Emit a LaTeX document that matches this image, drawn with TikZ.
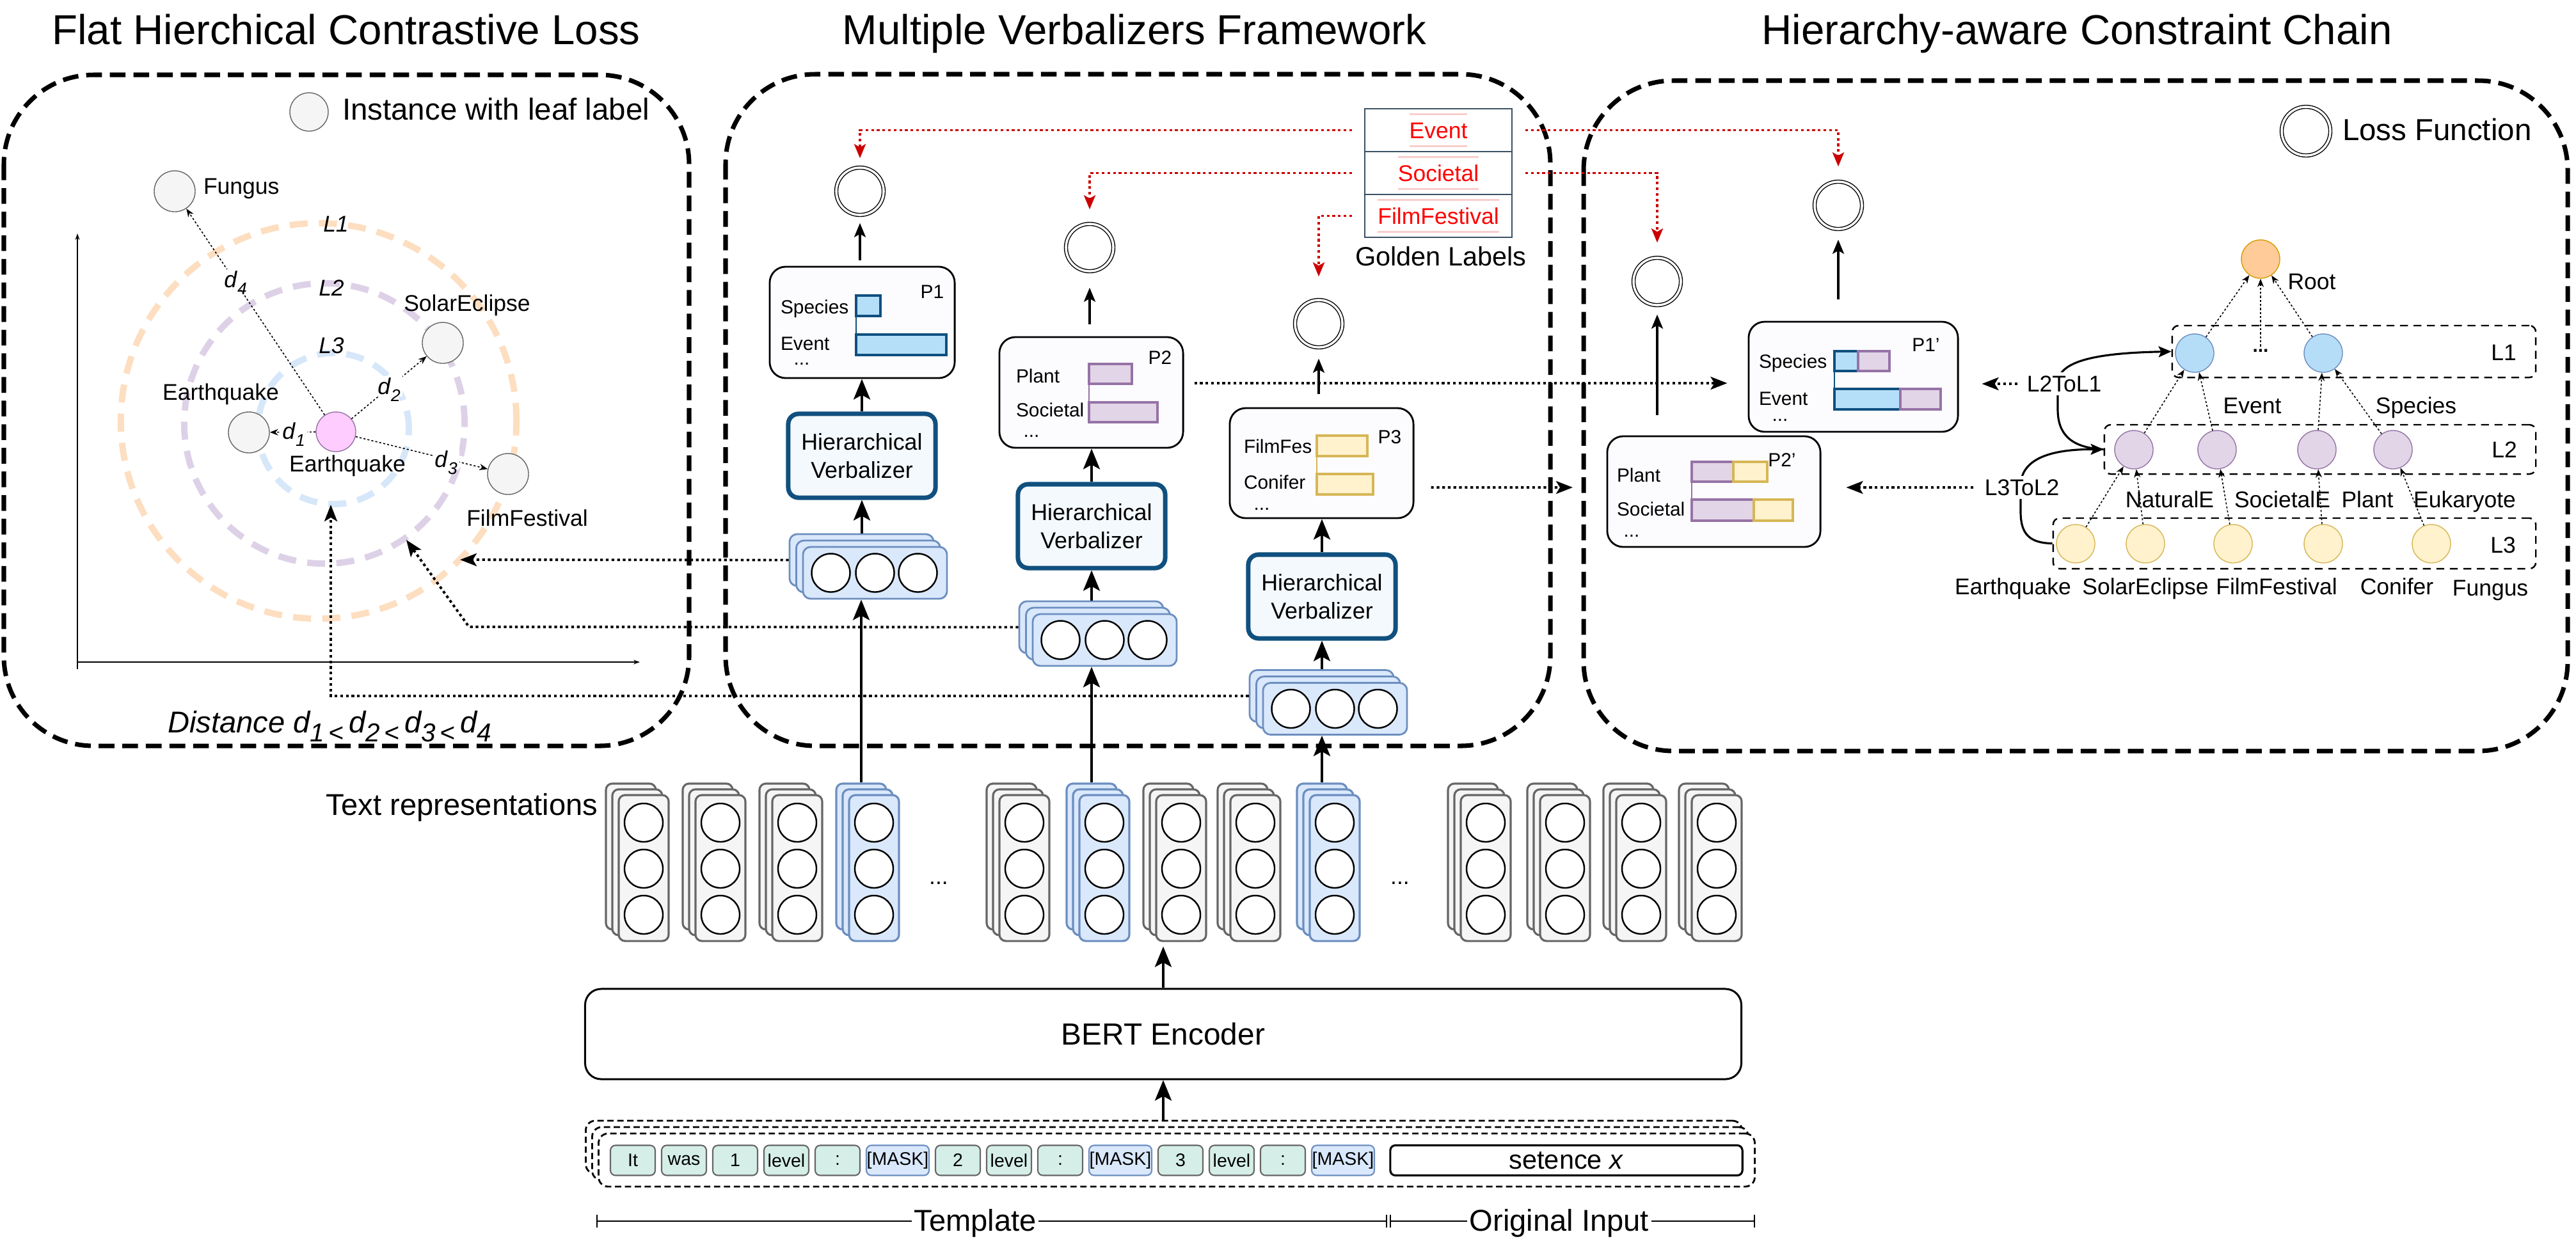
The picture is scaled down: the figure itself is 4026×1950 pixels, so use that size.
\documentclass[tikz,border=0pt]{standalone}
\usepackage{fontspec}
\setmainfont{Liberation Sans}
\usetikzlibrary{arrows.meta,calc}
\definecolor{grayfill}{HTML}{F5F5F5}
\definecolor{graystroke}{HTML}{666666}
\definecolor{bluefill}{HTML}{DAE8FC}
\definecolor{bluestroke}{HTML}{6C8EBF}
\definecolor{hvblue}{HTML}{10507F}
\definecolor{hvfill}{HTML}{F4F9FD}
\definecolor{skyfill}{HTML}{B5DFF9}
\definecolor{skystroke}{HTML}{10507F}
\definecolor{purfill}{HTML}{E1D5E7}
\definecolor{purstroke}{HTML}{9673A6}
\definecolor{yelfill}{HTML}{FFF2CC}
\definecolor{yelstroke}{HTML}{D6B656}
\definecolor{tokfill}{HTML}{D5EFE8}
\definecolor{ringO}{HTML}{FDDEC0}
\definecolor{ringP}{HTML}{DDD1E7}
\definecolor{ringB}{HTML}{D7E7FA}
\definecolor{pinkfill}{HTML}{FFCCFF}
\definecolor{rootfill}{HTML}{FFCC99}
\definecolor{rootstroke}{HTML}{D79B00}
\definecolor{lonefill}{HTML}{B5DDF8}
\definecolor{darkred}{HTML}{CC0000}
\definecolor{tablestroke}{HTML}{3C5063}
\definecolor{paleline}{HTML}{F8CECC}
\definecolor{boxfill}{HTML}{FCFCFF}
\newcommand{\dsb}[1]{\raisebox{-0.3em}{\fontsize{7.5}{8}\selectfont\itshape #1}}
\newcommand{\dbig}[1]{\raisebox{-0.3em}{\fontsize{11.5}{12}\selectfont\itshape #1}}
\tikzset{
  txt/.style={inner sep=0pt, outer sep=0pt, text height=0.72em, text depth=0pt},
  ftitle/.style={font=\fontsize{18.6}{22}\selectfont},
  flegend/.style={font=\fontsize{13.5}{16}\selectfont},
  fbig/.style={font=\fontsize{13.4}{16}\selectfont},
  fgold/.style={font=\fontsize{11.8}{14}\selectfont},
  flab/.style={font=\fontsize{10.1}{12}\selectfont},
  fbox/.style={font=\fontsize{8.5}{10}\selectfont},
  ftok/.style={font=\fontsize{8.1}{10}\selectfont},
  panel/.style={draw, line width=2pt, dash pattern=on 7pt off 3.5pt, rounded corners=1.4cm},
  leaf/.style={circle, draw=graystroke, fill=grayfill, line width=0.4pt, minimum size=0.64cm, inner sep=0pt},
  pinknode/.style={circle, draw=purstroke, fill=pinkfill, line width=0.4pt, minimum size=0.62cm, inner sep=0pt},
  axisline/.style={line width=0.4pt, -{Stealth[length=0.1cm,width=0.07cm]}},
  ring/.style={line width=2.8pt, dash pattern=on 8pt off 5pt},
  thindot/.style={line width=0.45pt, dash pattern=on 0.9pt off 0.9pt, -{Stealth[length=0.13cm,width=0.1cm]}},
  dotarr/.style={line width=1.1pt, dash pattern=on 1.2pt off 1.3pt, -{Stealth[length=0.26cm,width=0.2cm,inset=0.06cm]}},
  reddot/.style={line width=1.1pt, dash pattern=on 1.2pt off 1.3pt, draw=darkred, -{Stealth[length=0.22cm,width=0.18cm,inset=0.05cm]}},
  bigarr/.style={line width=1.1pt, -{Stealth[length=0.32cm,width=0.26cm,inset=0.07cm]}},
  lossarr/.style={line width=0.9pt, -{Stealth[length=0.22cm,width=0.18cm,inset=0.05cm]}},
  curvearr/.style={line width=0.9pt, -{Stealth[length=0.2cm,width=0.17cm,inset=0.04cm]}},
  losscirc/.style={circle, draw, double, double distance=1pt, line width=0.4pt, minimum size=0.74cm, inner sep=0pt},
  pbox/.style={draw, line width=0.8pt, rounded corners=0.25cm, fill=boxfill, inner sep=0pt},
  hvbox/.style={draw=hvblue, fill=hvfill, line width=2pt, rounded corners=0.16cm, minimum width=2.3cm, minimum height=1.31cm, inner sep=0pt, align=center, font=\fontsize{10.2}{12.5}\selectfont},
  stackbox/.style={draw=bluestroke, fill=bluefill, line width=0.8pt, rounded corners=0.12cm, minimum width=2.25cm, minimum height=0.81cm, inner sep=0pt},
  vcirc/.style={circle, draw, fill=white, line width=0.7pt, minimum size=0.6cm, inner sep=0pt},
  colgray/.style={draw=graystroke, fill=grayfill},
  colblue/.style={draw=bluestroke, fill=bluefill},
  colbox/.style={line width=0.9pt, rounded corners=0.1cm, minimum width=0.78cm, minimum height=2.28cm, inner sep=0pt},
  barB/.style={draw=skystroke, fill=skyfill, line width=1.1pt},
  barP/.style={draw=purstroke, fill=purfill, line width=1.1pt},
  barY/.style={draw=yelstroke, fill=yelfill, line width=1.1pt},
  tnode/.style={circle, line width=0.4pt, minimum size=0.6cm, inner sep=0pt},
  lbox/.style={draw, line width=0.7pt, dash pattern=on 3.5pt off 2.5pt, rounded corners=0.1cm, inner sep=0pt},
  inbox/.style={draw, line width=0.8pt, dash pattern=on 2.8pt off 1.6pt, rounded corners=0.15cm, minimum width=18.06cm, minimum height=0.83cm, inner sep=0pt, fill=white},
  tok/.style={draw=graystroke, fill=tokfill, line width=0.6pt, rounded corners=0.08cm, minimum height=0.47cm, minimum width=0.7cm, inner sep=0pt, ftok},
  mask/.style={tok, draw=bluestroke, fill=bluefill, minimum width=0.98cm},
  dlab/.style={txt, flab, fill=white, inner sep=1pt},
  brk/.style={line width=0.7pt},
}
\newcommand{\mkstack}[3]{%
  \node[stackbox] (#1b2) at (#2-21,#3-20) {};
  \node[stackbox] (#1b1) at (#2-10.5,#3-10) {};
  \node[stackbox] (#1) at (#2,#3) {};
  \node[vcirc] (#1c1) at (#2-69,#3) {};
  \node[vcirc] (#1c2) at (#2,#3) {};
  \node[vcirc] (#1c3) at (#2+67,#3) {};
}
\begin{document}
\begin{tikzpicture}[x=0.01cm,y=-0.01cm]
\path[fill=white] (0,0) rectangle (4026,1950);
\useasboundingbox (0,0) rectangle (4026,1950);

% ---------------- panels and titles ----------------
\draw[panel] (6,117) rectangle (1077,1166);
\draw[panel] (1134,116) rectangle (2423,1166);
\draw[panel] (2475,126) rectangle (4013,1174);
\node[ftitle, anchor=base, inner sep=0pt] (titleL) at (541,69) {Flat Hierchical Contrastive Loss};
\node[ftitle, anchor=base, inner sep=0pt] (titleM) at (1773,69) {Multiple Verbalizers Framework};
\node[ftitle, anchor=base, inner sep=0pt] (titleR) at (3246,69) {Hierarchy-aware Constraint Chain};

% ---------------- left panel ----------------
\node[leaf, minimum size=0.6cm] (legleaf) at (483,175) {};
\node[txt, flegend, anchor=west] (legleafT) at (535,175) {Instance with leaf label};
\coordinate (yb) at (121,1046);
\coordinate (yt) at (121,365);
\coordinate (xo) at (121,1035);
\coordinate (xe) at (1000,1035);
\draw[axisline] (yb) -- (yt);
\draw[axisline] (xo) -- (xe);
\draw[ring, draw=ringO] (498,658) circle[radius=3.09cm];
\draw[ring, draw=ringP] (507,662) circle[radius=2.19cm];
\draw[ring, draw=ringB] (521,670) circle[radius=1.18cm];
\node[txt, flab, font=\fontsize{10.1}{12}\selectfont\itshape] (rl1) at (525,350) {L1};
\node[txt, flab, font=\fontsize{10.1}{12}\selectfont\itshape] (rl2) at (518,450) {L2};
\node[txt, flab, font=\fontsize{10.1}{12}\selectfont\itshape] (rl3) at (518,540) {L3};
\node[leaf] (fungus) at (273,299) {};
\node[txt, flab, anchor=west] (fungusT) at (318,291) {Fungus};
\node[leaf] (eqL) at (389,676) {};
\node[txt, flab] (eqLT) at (345,613) {Earthquake};
\node[pinknode] (anc) at (525,675) {};
\node[txt, flab] (ancT) at (543,725) {Earthquake};
\node[leaf] (solar) at (692,536) {};
\node[txt, flab] (solarT) at (730,474) {SolarEclipse};
\node[leaf] (film) at (794,741) {};
\node[txt, flab] (filmT) at (824,810) {FilmFestival};
\draw[thindot] (anc) -- (fungus);
\draw[thindot] (anc) -- (solar);
\draw[thindot] (anc) -- (eqL);
\draw[thindot] (anc) -- (film);
\node[dlab] (d4) at (368,437) {\textit{d}\dsb{4}};
\node[dlab] (d2) at (608,604) {\textit{d}\dsb{2}};
\node[dlab] (d1) at (459,674) {\textit{d}\dsb{1}};
\node[dlab] (d3) at (697,718) {\textit{d}\dsb{3}};
\node[txt, fbig, font=\fontsize{13.4}{16}\selectfont\itshape] (dist) at (515,1133) {Distance d\dbig{1\,<}\,d\dbig{2\,<}\,d\dbig{3\,<}\,d\dbig{4}};

% ---------------- middle panel ----------------
% golden labels
\node[draw=tablestroke, line width=0.5pt, minimum width=2.3cm, minimum height=0.67cm, inner sep=0pt] (gEv) at (2248,203.5) {};
\node[draw=tablestroke, line width=0.5pt, minimum width=2.3cm, minimum height=0.67cm, inner sep=0pt] (gSo) at (2248,270.5) {};
\node[draw=tablestroke, line width=0.5pt, minimum width=2.3cm, minimum height=0.67cm, inner sep=0pt] (gFi) at (2248,337.5) {};
\node[txt, flab, text=red, minimum height=0.5cm] (gEvT) at (gEv) {Event};
\node[txt, flab, text=red, minimum height=0.5cm] (gSoT) at (gSo) {Societal};
\node[txt, flab, text=red, minimum height=0.5cm] (gFiT) at (gFi) {FilmFestival};
\foreach \g in {gEvT,gSoT,gFiT}{
  \draw[paleline, line width=0.6pt] (\g.north west) -- (\g.north east);
  \draw[paleline, line width=0.6pt] (\g.south west) -- (\g.south east);
}
\node[txt, fgold] (goldT) at (2252,403) {Golden Labels};

% loss circles
\node[losscirc] (lc1) at (1344,299) {};
\node[losscirc] (lc2) at (1703,387) {};
\node[losscirc] (lc3) at (2061,506) {};
\node[losscirc] (lc1p) at (2873,321) {};
\node[losscirc] (lc2p) at (2590,440) {};
\node[losscirc, minimum size=0.76cm] (leglc) at (3604,205) {};
\node[txt, flegend, anchor=west] (leglcT) at (3661,207) {Loss Function};

% P boxes
\node[pbox, minimum width=2.89cm, minimum height=1.74cm] (p1) at (1347.5,504) {};
\node[pbox, minimum width=2.87cm, minimum height=1.73cm] (p2) at (1705.5,613.5) {};
\node[pbox, minimum width=2.87cm, minimum height=1.72cm] (p3) at (2065.5,724) {};
% P1 content
\node[txt, fbox] (p1n) at (1457,454) {P1};
\node[txt, fbox, anchor=west] (p1a) at (1220,478) {Species};
\node[txt, fbox, anchor=west] (p1b) at (1220,535) {Event};
\node[fbox, anchor=base, inner sep=0pt] (p1c) at (1253,570) {...};
\draw[skystroke, line width=0.6pt] (1338,494) -- (1338,523);
\draw[barB] (1338,462) rectangle (1376,494);
\draw[barB] (1338,523) rectangle (1479,555);
% P2 content
\node[txt, fbox] (p2n) at (1813,557) {P2};
\node[txt, fbox, anchor=west] (p2a) at (1588,586) {Plant};
\node[txt, fbox, anchor=west] (p2b) at (1588,639) {Societal};
\node[fbox, anchor=base, inner sep=0pt] (p2c) at (1612,683) {...};
\draw[purstroke, line width=0.6pt] (1702,600) -- (1702,629);
\draw[barP] (1702,569) rectangle (1769,600);
\draw[barP] (1702,629) rectangle (1809,660);
% P3 content
\node[txt, fbox] (p3n) at (2172,681) {P3};
\node[txt, fbox, anchor=west] (p3a) at (1944,696) {FilmFes};
\node[txt, fbox, anchor=west] (p3b) at (1944,752) {Conifer};
\node[fbox, anchor=base, inner sep=0pt] (p3c) at (1972,797) {...};
\draw[yelstroke, line width=0.6pt] (2058,713) -- (2058,741);
\draw[barY] (2058,681) rectangle (2137,713);
\draw[barY] (2058,741) rectangle (2146,773);

% hierarchical verbalizers
\node[hvbox] (hv1) at (1347,712.5) {Hierarchical\\Verbalizer};
\node[hvbox] (hv2) at (1706,822.5) {Hierarchical\\Verbalizer};
\node[hvbox] (hv3) at (2066,932.5) {Hierarchical\\Verbalizer};

% vector stacks
\mkstack{sa}{1367.5}{895.5}
\mkstack{sb}{1726.5}{1000.5}
\mkstack{sc}{2086.5}{1108}

% arrows within middle panel
\draw[bigarr] (hv1.south |- sab2.north) -- (hv1.south);
\draw[bigarr] (hv2.south |- sbb2.north) -- (hv2.south);
\draw[bigarr] (hv3.south |- scb2.north) -- (hv3.south);
\draw[bigarr] (hv1.north) -- (hv1.north |- p1.south);
\draw[bigarr] (hv2.north) -- (hv2.north |- p2.south);
\draw[bigarr] (hv3.north) -- (hv3.north |- p3.south);
\draw[lossarr, shorten <=0.09cm, shorten >=0.12cm] (p1.north -| lc1) -- (lc1.south);
\draw[lossarr, shorten <=0.19cm, shorten >=0.25cm] (p2.north -| lc2) -- (lc2.south);
\draw[lossarr, shorten <=0.21cm, shorten >=0.17cm] (p3.north -| lc3) -- (lc3.south);

% red golden label arrows
\draw[reddot, shorten <=0.19cm, shorten >=0.14cm] (gEv.west) -| (lc1.north);
\draw[reddot, shorten <=0.19cm, shorten >=0.22cm] (gSo.west) -| (lc2.north);
\draw[reddot, shorten <=0.19cm, shorten >=0.36cm] (gFi.west) -| (lc3.north);
\draw[reddot, shorten <=0.2cm, shorten >=0.23cm] (gEv.east) -| (lc1p.north);
\draw[reddot, shorten <=0.2cm, shorten >=0.23cm] (gSo.east) -| (lc2p.north);

% dotted arrows to the left panel
\coordinate (tipA) at (719,875);
\coordinate (bendB) at (733,980);
\coordinate (tipB) at (635,844);
\coordinate (bendC) at (517,1088);
\coordinate (tipC) at (517,789);
\draw[dotarr] (sab2.west) -- (tipA);
\draw[dotarr] (sbb2.west) -- (bendB) -- (tipB);
\draw[dotarr] (scb2.west) -- (bendC) -- (tipC);

% ---------------- right panel ----------------
\node[pbox, minimum width=3.27cm, minimum height=1.72cm] (p1p) at (2896.5,589) {};
\node[pbox, minimum width=3.33cm, minimum height=1.73cm] (p2p) at (2678.5,768.5) {};
% P1' content
\node[txt, fbox] (p1pn) at (3010,537) {P1'};
\node[txt, fbox, anchor=west] (p1pa) at (2749,563) {Species};
\node[txt, fbox, anchor=west] (p1pb) at (2749,621) {Event};
\node[fbox, anchor=base, inner sep=0pt] (p1pc) at (2782,658) {...};
\draw[skystroke, line width=0.6pt] (2867,580) -- (2867,608);
\draw[barB] (2867,549) rectangle (2904,580);
\draw[barP] (2904,549) rectangle (2953,580);
\draw[barB] (2867,608) rectangle (2970,640);
\draw[barP] (2970,608) rectangle (3033,640);
% P2' content
\node[txt, fbox] (p2pn) at (2785,717) {P2'};
\node[txt, fbox, anchor=west] (p2pa) at (2527,741) {Plant};
\node[txt, fbox, anchor=west] (p2pb) at (2527,794) {Societal};
\node[fbox, anchor=base, inner sep=0pt] (p2pc) at (2550,839) {...};
\draw[purstroke, line width=0.6pt] (2644,753) -- (2644,781);
\draw[barP] (2644,722) rectangle (2709,753);
\draw[barY] (2709,722) rectangle (2762,753);
\draw[barP] (2644,781) rectangle (2741,814);
\draw[barY] (2741,781) rectangle (2802,814);

\draw[lossarr, shorten <=0.34cm, shorten >=0.16cm] (p1p.north -| lc1p) -- (lc1p.south);
\draw[lossarr, shorten <=0.32cm, shorten >=0.14cm] (p2p.north -| lc2p) -- (lc2p.south);

% dotted arrows from middle to right panel
\coordinate (tipD) at (2458,762);
\draw[dotarr, shorten <=0.16cm, shorten >=0.32cm] ([yshift=0.145cm]p2.east) -- ([yshift=0.145cm]p2.east -| p1p.west);
\draw[dotarr, shorten <=0.26cm] ([yshift=-0.38cm]p3.east) -- (tipD);

% level boxes
\node[lbox, minimum width=5.68cm, minimum height=0.81cm] (Lone) at (3679,549.5) {};
\node[lbox, minimum width=6.74cm, minimum height=0.77cm] (Ltwo) at (3626,702.5) {};
\node[lbox, minimum width=7.54cm, minimum height=0.79cm] (Lthree) at (3586,849.5) {};
\node[txt, flab] (Lonet) at (3913,551) {L1};
\node[txt, flab] (Ltwot) at (3914,703) {L2};
\node[txt, flab] (Lthreet) at (3912,852) {L3};

% tree nodes
\node[tnode, draw=rootstroke, fill=rootfill] (root) at (3533,405) {};
\node[txt, flab, fill=white, inner sep=1pt] (rootT) at (3613,440) {Root};
\node[tnode, draw=bluestroke, fill=lonefill] (a1) at (3430,552) {};
\node[tnode, draw=bluestroke, fill=lonefill] (a2) at (3631,552) {};
\node[fbox, inner sep=1pt] (adots) at (3533,548) {\textbf{...}};
\node[tnode, draw=purstroke, fill=purfill] (b1) at (3335,703) {};
\node[tnode, draw=purstroke, fill=purfill] (b2) at (3465,703) {};
\node[tnode, draw=purstroke, fill=purfill] (b3) at (3621,703) {};
\node[tnode, draw=purstroke, fill=purfill] (b4) at (3740,703) {};
\node[tnode, draw=yelstroke, fill=yelfill] (c1) at (3244,850) {};
\node[tnode, draw=yelstroke, fill=yelfill] (c2) at (3353,850) {};
\node[tnode, draw=yelstroke, fill=yelfill] (c3) at (3490,850) {};
\node[tnode, draw=yelstroke, fill=yelfill] (c4) at (3631,850) {};
\node[tnode, draw=yelstroke, fill=yelfill] (c5) at (3800,850) {};
\draw[thindot] (c1) -- (b1);
\draw[thindot] (c2) -- (b1);
\draw[thindot] (c3) -- (b2);
\draw[thindot] (c4) -- (b3);
\draw[thindot] (c5) -- (b4);
\draw[thindot] (b1) -- (a1);
\draw[thindot] (b2) -- (a1);
\draw[thindot] (b3) -- (a2);
\draw[thindot] (b4) -- (a2);
\draw[thindot] (a1) -- (root);
\draw[thindot] (adots) -- (root);
\draw[thindot] (a2) -- (root);
\node[txt, flab] (tEvent) at (3520,634) {Event};
\node[txt, flab] (tSpecies) at (3776,634) {Species};
\node[txt, flab] (tNat) at (3391,781) {NaturalE};
\node[txt, flab] (tSoc) at (3567,781) {SocietalE};
\node[txt, flab] (tPlant) at (3700,781) {Plant};
\node[txt, flab] (tEuk) at (3852,781) {Eukaryote};
\node[txt, flab] (tEq) at (3146,917) {Earthquake};
\node[txt, flab] (tSol) at (3353,917) {SolarEclipse};
\node[txt, flab] (tFilm) at (3558,917) {FilmFestival};
\node[txt, flab] (tCon) at (3746,917) {Conifer};
\node[txt, flab] (tFun) at (3892,919) {Fungus};

% constraint chain curves
\draw[curvearr] (Lthree.west) .. controls (3172,849) and (3158,835) .. (3158,800) -- (3158,760) .. controls (3158,714) and (3212,702) .. (Ltwo.west);
\draw[curvearr] (Ltwo.west) .. controls (3238,700) and (3216,680) .. (3216,640) -- (3216,600) .. controls (3216,568) and (3262,552) .. (Lone.west);
\node[txt, flab, fill=white, inner sep=0.05cm] (l2l1) at (3226,600) {L2ToL1};
\node[txt, flab, fill=white, inner sep=0.05cm] (l3l2) at (3160,762) {L3ToL2};
\draw[dotarr, shorten <=0.1cm, shorten >=0.36cm] (l2l1.west) -- (l2l1.west -| p1p.east);
\draw[dotarr, shorten <=0.13cm, shorten >=0.39cm] (l3l2.west) -- (l3l2.west -| p2p.east);

% ---------------- bottom: text representations ----------------
\node[txt, fbig] (trep) at (722,1262) {Text representations};
\foreach \nm/\cx/\st in {ka/1006/colgray, kb/1126/colgray, kc/1246/colgray, kd/1366/colblue, ke/1601/colgray, kf/1726/colblue, kg/1846/colgray, kh/1962/colgray, ki/2086/colblue, kj/2322/colgray, kk/2446/colgray, kl/2565/colgray, km/2683/colgray}{
  \node[colbox, \st] (\nm b2) at (\cx-20,1339) {};
  \node[colbox, \st] (\nm b1) at (\cx-10,1348) {};
  \node[colbox, \st] (\nm) at (\cx,1357) {};
  \node[vcirc] (\nm c1) at (\cx,1286) {};
  \node[vcirc] (\nm c2) at (\cx,1358) {};
  \node[vcirc] (\nm c3) at (\cx,1430) {};
}
\node[txt, flab] (cdots1) at (1467,1370) {...};
\node[txt, flab] (cdots2) at (2188,1370) {...};
\draw[bigarr] (kdb2.north) -- (kdb2.north |- sa.south);
\draw[bigarr] (kfb2.north) -- (kfb2.north |- sb.south);
\draw[bigarr] (kib2.north) -- (kib2.north |- sc.south);

% BERT encoder
\node[draw, line width=0.85pt, rounded corners=0.25cm, minimum width=18.06cm, minimum height=1.41cm, inner sep=0pt, font=\fontsize{13.6}{16}\selectfont] (bert) at (1818,1616.5) {BERT Encoder};
\draw[bigarr, shorten >=0.07cm] (bert.north) -- (bert.north |- kg.south);

% input
\node[inbox] (inb2) at (1819,1793.5) {};
\node[inbox] (inb1) at (1829,1803.5) {};
\node[inbox] (inb0) at (1839,1813.5) {};
\draw[bigarr] (inb2.north -| bert) -- (bert.south);
\foreach \nm/\cx/\tx in {t1/989/It, t2/1069/was, t3/1149/1, t4/1229/level, t5/1309/:, t7/1497/2, t8/1577/level, t9/1657/:, t11/1845/3, t12/1925/level, t13/2005/:}{
  \node[tok] (\nm) at (\cx,1814) {\tx};
}
\node[mask] (t6) at (1403,1814) {[MASK]};
\node[mask] (t10) at (1751,1814) {[MASK]};
\node[mask] (t14) at (2099,1814) {[MASK]};
\node[draw, line width=0.9pt, rounded corners=0.08cm, fill=white, minimum width=5.5cm, minimum height=0.47cm, inner sep=0pt, fgold] (sent) at (2448,1814) {setence \textit{x}};

% brackets
\coordinate (bA1) at (933,1909);
\coordinate (bA2) at (2167,1909);
\coordinate (bB1) at (2173,1909);
\coordinate (bB2) at (2742,1909);
\draw[brk] (bA1) -- (bA2);
\draw[brk] (bB1) -- (bB2);
\draw[brk] ([yshift=0.1cm]bA1) -- ([yshift=-0.1cm]bA1);
\draw[brk] ([yshift=0.1cm]bA2) -- ([yshift=-0.1cm]bA2);
\draw[brk] ([yshift=0.1cm]bB1) -- ([yshift=-0.1cm]bB1);
\draw[brk] ([yshift=0.1cm]bB2) -- ([yshift=-0.1cm]bB2);
\node[txt, fbig, fill=white, inner xsep=1pt] (tmplT) at (1524,1912) {Template};
\node[txt, fbig, fill=white, inner xsep=1pt] (origT) at (2437,1912) {Original Input};
\end{tikzpicture}
\end{document}
